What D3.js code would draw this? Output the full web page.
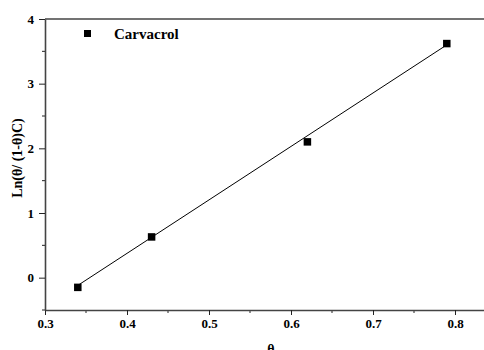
<!DOCTYPE html>
<html><head><meta charset="utf-8">
<script src="https://cdn.jsdelivr.net/npm/d3@7"></script>
<style>body{margin:0;background:#fff}svg{display:block}</style>
</head><body><svg id="c" width="484" height="350"></svg>
<script>
const thetaValues = [0.34, 0.43, 0.62, 0.79];
const lnValues = [-0.15, 0.63, 2.10, 3.62];
const fitX = [0.34, 0.79];
const fitY = [-0.12, 3.60];
const xTicks = [0.3, 0.4, 0.5, 0.6, 0.7, 0.8];
const yTicks = [0, 1, 2, 3, 4];
const seriesName = "Carvacrol";

const svg = d3.select("#c");
const L = 45, T = 19, B = 310;
const x = d3.scaleLinear().domain([0.3, 0.85]).range([L, L + 0.55 * 820]);
const y = d3.scaleLinear().domain([-0.5, 4]).range([B, T]);
const font = "Liberation Serif";

// frame top
svg.append("line").attr("x1", L).attr("x2", 484).attr("y1", T).attr("y2", T)
  .attr("stroke", "#444").attr("stroke-width", 1.5);

// minor ticks
const xMinor = d3.range(0.35, 0.86, 0.1);
const yMinor = d3.range(-0.5, 4, 1);
svg.append("g").selectAll("line").data(xMinor).join("line")
  .attr("x1", d => x(d)).attr("x2", d => x(d)).attr("y1", B).attr("y2", B + 3)
  .attr("stroke", "#222").attr("stroke-width", 1);
svg.append("g").selectAll("line").data(yMinor).join("line")
  .attr("x1", L - 3).attr("x2", L).attr("y1", d => y(d)).attr("y2", d => y(d))
  .attr("stroke", "#222").attr("stroke-width", 1);

const xAxis = svg.append("g").attr("transform", `translate(0,${B})`)
  .call(d3.axisBottom(x).tickValues(xTicks).tickFormat(d3.format(".1f")).tickSizeInner(5).tickSizeOuter(0).tickPadding(4));
const yAxis = svg.append("g").attr("transform", `translate(${L},0)`)
  .call(d3.axisLeft(y).tickValues(yTicks).tickFormat(d3.format("d")).tickSizeInner(6).tickSizeOuter(0).tickPadding(5));
[xAxis, yAxis].forEach(a => {
  a.select(".domain").attr("stroke", "#444").attr("stroke-width", 1.6);
  a.selectAll(".tick line").attr("stroke", "#222").attr("stroke-width", 1);
  a.selectAll("text").attr("font-family", font).attr("font-weight", "bold")
    .attr("font-size", 13).attr("fill", "#000");
});

// fit line
svg.append("line").attr("x1", x(fitX[0])).attr("y1", y(fitY[0]))
  .attr("x2", x(fitX[1])).attr("y2", y(fitY[1]))
  .attr("stroke", "#000").attr("stroke-width", 1);

// points
const s = 7.5;
svg.append("g").selectAll("rect").data(thetaValues).join("rect")
  .attr("x", d => x(d) - s / 2).attr("y", (d, i) => y(lnValues[i]) - s / 2)
  .attr("width", s).attr("height", s).attr("fill", "#000");

// legend
svg.append("rect").attr("x", 84).attr("y", 30).attr("width", 7).attr("height", 7).attr("fill", "#000");
svg.append("text").attr("x", 114).attr("y", 39).text(seriesName)
  .attr("font-family", font).attr("font-weight", "bold").attr("font-size", 15);

// axis titles
svg.append("text").attr("x", 271).attr("y", 354).attr("text-anchor", "middle")
  .text("θ").attr("font-family", font).attr("font-weight", "bold").attr("font-size", 14);
svg.append("text").attr("transform", "translate(22,158) rotate(-90)").attr("text-anchor", "middle")
  .text("Ln(θ/ (1-θ)C)").attr("font-family", font).attr("font-weight", "bold").attr("font-size", 14);
</script></body></html>
